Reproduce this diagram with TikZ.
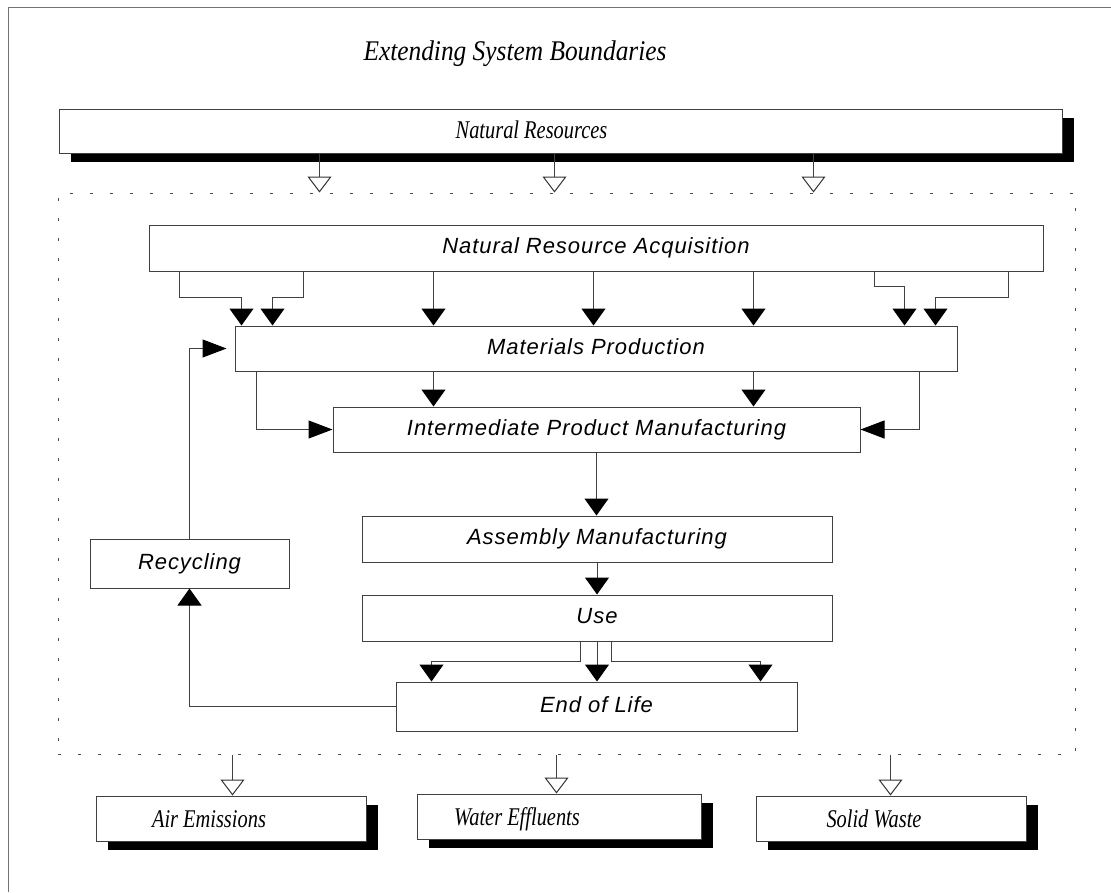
\documentclass[tikz,border=0pt]{standalone}
\usepackage{fontspec}
\usetikzlibrary{arrows.meta,shadows}
\newfontfamily\boxfont[LetterSpace=4.3]{Liberation Sans}
\newfontfamily\capfont[FakeStretch=0.8]{Liberation Serif}
\newfontfamily\titlefont[FakeStretch=0.89]{Liberation Serif}

\tikzset{
  ln/.style={draw=black!75, line width=1pt},
  stage/.style={ln, rectangle, fill=white, inner sep=0pt,
    font=\boxfont\itshape\fontsize{22}{26}\selectfont,
    text height=15.5pt, text depth=4pt},
  sinkbox/.style={ln, rectangle, fill=white, inner sep=0pt,
    drop shadow={shadow xshift=12pt, shadow yshift=-9pt, fill=black, opacity=1}},
  caplabel/.style={anchor=base, inner sep=0pt,
    font=\capfont\itshape\fontsize{25.5}{30}\selectfont},
  titlelabel/.style={anchor=base, inner sep=0pt,
    font=\titlefont\itshape\fontsize{28.5}{34}\selectfont},
  feedv/.style={ln, -{Triangle[length=17pt,width=24pt,fill=black,color=black]}},
  feedh/.style={ln, -{Triangle[length=24pt,width=18pt,fill=black,color=black]}},
  release/.style={ln, -{Triangle[length=16pt,width=24pt,fill=white,color=black!80]}},
  boundary/.style={draw=black!70, line width=1pt, dash pattern=on 3pt off 17pt,
    rectangle, inner sep=0pt},
}

\begin{document}
\begin{tikzpicture}[x=1pt,y=-1pt]
\useasboundingbox (0,0) rectangle (1111,892);

% page frame
\draw[draw=black!55, line width=1pt] (8,892) -- (8,7) -- (1111,7);

% title
\node[titlelabel] (title) at (515,60) {Extending System Boundaries};

% system boundary
\node[boundary, minimum width=1017pt, minimum height=561pt] (sys) at (566.5,473.5) {};

% inputs and outputs of the system
\node[sinkbox, minimum width=1003pt, minimum height=44pt] (nr) at (560.5,131) {};
\node[caplabel] (nr-text) at (531.5,138) {Natural Resources};

\node[sinkbox, minimum width=270pt, minimum height=45pt] (air) at (231,818.5) {};
\node[caplabel] (air-text) at (209,827) {Air Emissions};

\node[sinkbox, minimum width=284pt, minimum height=45pt] (water) at (559,816.5) {};
\node[caplabel] (water-text) at (517,825) {Water Effluents};

\node[sinkbox, minimum width=270pt, minimum height=45pt] (solid) at (891,818.5) {};
\node[caplabel] (solid-text) at (874,827) {Solid Waste};

% life-cycle stages
\node[stage, minimum width=894pt, minimum height=46pt] (nra) at (596,248) {Natural Resource Acquisition};
\node[stage, minimum width=722pt, minimum height=45pt] (mp) at (596,348.5) {Materials Production};
\node[stage, minimum width=527pt, minimum height=45pt] (ipm) at (596.5,429.5) {Intermediate Product Manufacturing};
\node[stage, minimum width=470pt, minimum height=46pt] (am) at (597,539) {Assembly Manufacturing};
\node[stage, minimum width=470pt, minimum height=46pt] (use) at (597,618) {Use};
\node[stage, minimum width=401pt, minimum height=49pt] (eol) at (596.5,706.5) {End of Life};
\node[stage, minimum width=199pt, minimum height=49pt] (rec) at (189.5,563.5) {Recycling};

% resources entering the boundary
\coordinate (in1) at ([xshift=261pt]nr.south west);
\coordinate (in2) at ([xshift=496pt]nr.south west);
\coordinate (in3) at ([xshift=755pt]nr.south west);
\draw[release] (in1) -- (in1 |- sys.north);
\draw[release] (in2) -- (in2 |- sys.north);
\draw[release] (in3) -- (in3 |- sys.north);

% releases leaving the boundary
\coordinate (out1) at ([xshift=137pt]air.north west);
\coordinate (out2) at ([xshift=140pt]water.north west);
\coordinate (out3) at ([xshift=135pt]solid.north west);
\draw[release] (out1 |- sys.south) -- (out1);
\draw[release] (out2 |- sys.south) -- (out2);
\draw[release] (out3 |- sys.south) -- (out3);

% acquisition -> materials production
\draw[feedv] ([xshift=31pt]nra.south west) -- ++(0,26) -| ([xshift=7pt]mp.north west);
\draw[feedv] ([xshift=155pt]nra.south west) -- ++(0,26) -| ([xshift=38pt]mp.north west);
\draw[feedv] ([xshift=285pt]nra.south west) -- ([xshift=199pt]mp.north west);
\draw[feedv] ([xshift=445pt]nra.south west) -- ([xshift=359pt]mp.north west);
\draw[feedv] ([xshift=605pt]nra.south west) -- ([xshift=519pt]mp.north west);
\draw[feedv] ([xshift=726pt]nra.south west) -- ++(0,15) -| ([xshift=670pt]mp.north west);
\draw[feedv] ([xshift=860pt]nra.south west) -- ++(0,26) -| ([xshift=701pt]mp.north west);

% materials production -> intermediate products
\draw[feedh] ([xshift=22pt]mp.south west) |- (ipm.west);
\draw[feedv] ([xshift=199pt]mp.south west) -- ([xshift=101pt]ipm.north west);
\draw[feedv] ([xshift=519pt]mp.south west) -- ([xshift=421pt]ipm.north west);
\draw[feedh] ([xshift=685pt]mp.south west) |- (ipm.east);

% down the chain
\draw[feedv] (ipm.south) -- (ipm.south |- am.north);
\draw[feedv] (am.south) -- (use.north);

% use -> end of life
\draw[feedv] ([xshift=219pt]use.south west) -- ++(0,20) -| ([xshift=36pt]eol.north west);
\draw[feedv] (use.south) -- (use.south |- eol.north);
\draw[feedv] ([xshift=250pt]use.south west) -- ++(0,20) -| ([xshift=365pt]eol.north west);

% recycling loop
\draw[feedv] (eol.west) -| (rec.south);
\draw[feedh] (rec.north) |- ([xshift=-8pt]mp.west);
\end{tikzpicture}
\end{document}
